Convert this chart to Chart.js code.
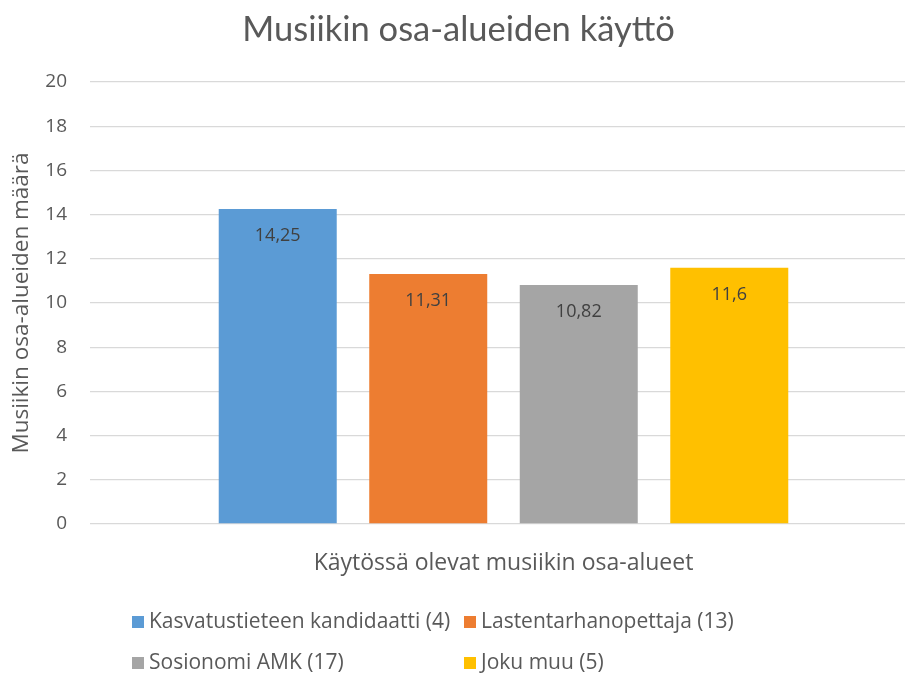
<!DOCTYPE html>
<html>
<head>
<meta charset="utf-8">
<script src="https://cdn.jsdelivr.net/npm/chart.js@4/dist/chart.umd.min.js"></script>
<style>
  html, body { margin: 0; padding: 0; background: #fff; overflow: hidden; }
  #wrap { position: absolute; left: 0; top: 0; width: 917px; height: 677px; }
</style>
</head>
<body>
<div id="wrap"><canvas id="c"></canvas></div>
<script>
const chartTitle = 'Musiikin osa-alueiden käyttö';
const yAxisTitle = 'Musiikin osa-alueiden määrä';
const xAxisTitle = 'Käytössä olevat musiikin osa-alueet';
const categories = [''];
const seriesNames = ['Kasvatustieteen kandidaatti (4)', 'Lastentarhanopettaja (13)', 'Sosionomi AMK (17)', 'Joku muu (5)'];
const seriesValues = [[14.25], [11.31], [10.82], [11.6]];
const seriesColors = ['#5B9BD5', '#ED7D31', '#A5A5A5', '#FFC000'];
const yTicks = [0, 2, 4, 6, 8, 10, 12, 14, 16, 18, 20];

const TITLE_FONT = 'Lato, "Open Sans", sans-serif';
const FONT = '"Open Sans", Lato, sans-serif';

const valueLabels = {
  id: 'valueLabels',
  afterDatasetsDraw(chart) {
    const ctx = chart.ctx;
    ctx.save();
    ctx.font = '18px ' + FONT;
    ctx.fillStyle = '#404040';
    ctx.textAlign = 'center';
    ctx.textBaseline = 'middle';
    chart.data.datasets.forEach((ds, i) => {
      const meta = chart.getDatasetMeta(i);
      meta.data.forEach((bar, j) => {
        const v = ds.data[j];
        ctx.fillText(String(v).replace('.', ','), bar.x, bar.y + 27);
      });
    });
    ctx.restore();
  }
};

const gridLegend = {
  id: 'gridLegend',
  afterDraw(chart) {
    const ctx = chart.ctx;
    const cols = [132, 464];
    const rows = [622, 663];
    ctx.save();
    ctx.font = '21px ' + FONT;
    ctx.textBaseline = 'middle';
    ctx.textAlign = 'left';
    chart.data.datasets.forEach((ds, i) => {
      const x = cols[i % 2];
      const y = rows[Math.floor(i / 2)];
      ctx.fillStyle = ds.backgroundColor;
      ctx.fillRect(x, y - 6, 12, 12);
      ctx.fillStyle = '#595959';
      ctx.fillText(ds.label, x + 17, y);
    });
    ctx.restore();
  }
};

new Chart(document.getElementById('c'), {
  type: 'bar',
  data: {
    labels: categories,
    datasets: seriesNames.map((name, i) => ({
      label: name,
      data: seriesValues[i],
      backgroundColor: seriesColors[i],
      borderWidth: 0,
      categoryPercentage: 0.728,
      barPercentage: 0.784
    }))
  },
  options: {
    responsive: true,
    maintainAspectRatio: false,
    animation: false,
    layout: { padding: { left: 0, right: 0, top: 0, bottom: 100.2 } },
    plugins: {
      legend: { display: false },
      tooltip: { enabled: false },
      title: {
        display: true,
        text: chartTitle,
        color: '#595959',
        font: { family: TITLE_FONT, size: 34.5, weight: 'normal' },
        padding: { top: 9, bottom: 31.6 }
      }
    },
    scales: {
      x: {
        grid: { display: false, drawTicks: false },
        border: { display: false },
        ticks: { display: false },
        title: {
          display: true,
          text: xAxisTitle,
          color: '#595959',
          font: { family: FONT, size: 23 },
          padding: { top: 25.2, bottom: 0 }
        }
      },
      y: {
        min: 0,
        max: 20,
        afterFit(scale) { scale.width = 90; },
        afterBuildTicks(scale) { scale.ticks = yTicks.map(v => ({ value: v })); },
        grid: { color: '#d9d9d9', lineWidth: 1.3, drawTicks: false },
        border: { display: false },
        ticks: {
          color: '#595959',
          font: { family: FONT, size: 19 },
          padding: 23
        },
        title: {
          display: true,
          text: yAxisTitle,
          color: '#595959',
          font: { family: FONT, size: 22.5 },
          padding: { top: 8.5, bottom: 0 }
        }
      }
    }
  },
  plugins: [valueLabels, gridLegend]
});
</script>
</body>
</html>
